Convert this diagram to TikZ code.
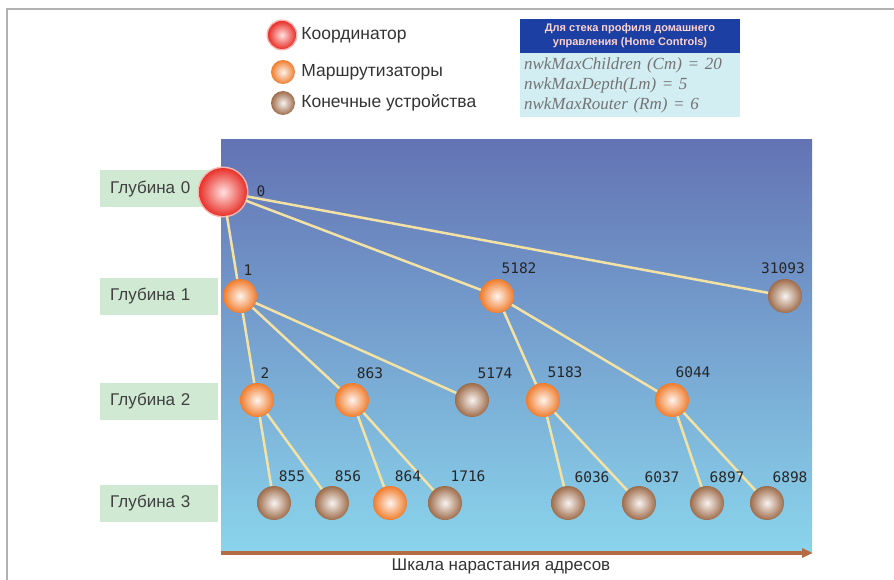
\documentclass[tikz,border=0pt]{standalone}
\usepackage{fontspec}
\setmainfont{Liberation Sans}
\newfontfamily\numfont{DejaVu Sans Mono}
\newfontfamily\parfont{Liberation Serif}
\usetikzlibrary{arrows.meta,positioning}
\definecolor{crRed}{HTML}{E8322A}
\definecolor{rtOrange}{HTML}{F07C2C}
\definecolor{edBrown}{HTML}{9E6C4A}
\definecolor{panTop}{HTML}{6373B4}
\definecolor{panMid}{HTML}{6AA8DA}
\definecolor{panBot}{HTML}{8AD4EC}
\definecolor{depthGreen}{HTML}{CFE9D3}
\definecolor{edgeCream}{HTML}{F4E2A4}
\definecolor{hdrBlue}{HTML}{1B3FA2}
\definecolor{infoCyan}{HTML}{D3EEF3}
\definecolor{axBrown}{HTML}{B56C42}
\tikzset{
  coordball/.style={circle, inner sep=0pt, minimum size=#1, inner color=red!12!white, outer color=crRed,
    preaction={draw=crRed!35, line width=3pt}},
  coordball/.default=48pt,
  routball/.style={circle, inner sep=0pt, minimum size=#1, inner color=rtOrange!8!white, outer color=rtOrange},
  routball/.default=34pt,
  endball/.style={circle, inner sep=0pt, minimum size=#1, inner color=edBrown!8!white, outer color=edBrown},
  endball/.default=34pt,
  depthbox/.style={fill=depthGreen, text width=98pt, align=left, inner xsep=10pt, minimum height=37pt,
    anchor=west, font=\fontsize{17}{20}\selectfont, text=black!75},
  numlbl/.style={font=\numfont\fontsize{14.5}{15}\selectfont, text=black!85, inner sep=1pt},
  legtxt/.style={font=\fontsize{17.5}{20}\selectfont, text=black!80, inner sep=0pt},
  tree/.style={draw=edgeCream, line width=2.5pt},
  axarr/.style={-{Triangle[length=11pt, width=9pt]}, draw=axBrown, line width=3.2pt}
}

\begin{document}
\begin{tikzpicture}[x=1pt, y=-1pt]
\useasboundingbox (0,0) rectangle (894,580);
% frame
\coordinate (fa) at (7,580); \coordinate (fb) at (7,9); \coordinate (fc) at (894,9);
\draw[gray!60, line width=2pt] (fa) -- (fb) -- (fc);

% legend
\node[coordball=28pt] (lgc) at (282,35) {};
\node[legtxt, right=5pt of lgc] (lgct) {Координатор};
\node[routball=24pt] (lgr) at (283,72) {};
\node[legtxt, right=6pt of lgr] (lgrt) {Маршрутизаторы};
\node[endball=24pt] (lge) at (283,103) {};
\node[legtxt, right=6pt of lge] (lget) {Конечные устройства};

% stack profile box
\node[fill=hdrBlue, minimum width=220pt, minimum height=34pt, align=center, text=pink!70!white,
  font=\bfseries\fontsize{11}{14}\selectfont] (hdr) at (630,36)
  {Для стека профиля домашнего\\управления (Home Controls)};
\node[fill=infoCyan, below=0pt of hdr, minimum width=220pt, minimum height=64pt, text width=212pt,
  align=left, inner sep=4pt, text=black!55, font=\parfont\itshape\fontsize{17}{20}\selectfont] (info)
  {nwkMaxChildren (Cm) = 20\\nwkMaxDepth(Lm) = 5\\nwkMaxRouter (Rm) = 6};

% depth labels
\node[depthbox] (d0) at (100,189) {Глубина 0};
\node[depthbox] (d1) at (100,296) {Глубина 1};
\node[depthbox] (d2) at (100,401) {Глубина 2};
\node[depthbox] (d3) at (100,503) {Глубина 3};

% panel
\shade[top color=panTop, middle color=panMid, bottom color=panBot] (221,140) rectangle (812,551);

% address axis
\coordinate (axS) at (221,553); \coordinate (axE) at (813,553);
\draw[axarr] (axS) -- (axE);
\node[font=\fontsize{17}{20}\selectfont, text=black!80] (axl) at (501,566) {Шкала нарастания адресов};

% tree nodes
\node[coordball] (c0) at (223,192) {};
\node[routball] (r1) at (240,296) {};
\node[routball] (r5182) at (497,296) {};
\node[endball] (e31093) at (785,296) {};
\node[routball] (r2) at (257,400) {};
\node[routball] (r863) at (352,400) {};
\node[endball] (e5174) at (472,400) {};
\node[routball] (r5183) at (543,400) {};
\node[routball] (r6044) at (672,400) {};
\node[endball] (e855) at (274,503) {};
\node[endball] (e856) at (332,503) {};
\node[routball] (r864) at (390,503) {};
\node[endball] (e1716) at (445,503) {};
\node[endball] (e6036) at (568,503) {};
\node[endball] (e6037) at (639,503) {};
\node[endball] (e6897) at (707,503) {};
\node[endball] (e6898) at (767,503) {};

% links
\draw[tree] (c0) -- (r1); \draw[tree] (c0) -- (r5182); \draw[tree] (c0) -- (e31093);
\draw[tree] (r1) -- (r2); \draw[tree] (r1) -- (r863); \draw[tree] (r1) -- (e5174);
\draw[tree] (r5182) -- (r5183); \draw[tree] (r5182) -- (r6044);
\draw[tree] (r2) -- (e855); \draw[tree] (r2) -- (e856);
\draw[tree] (r863) -- (r864); \draw[tree] (r863) -- (e1716);
\draw[tree] (r5183) -- (e6036); \draw[tree] (r5183) -- (e6037);
\draw[tree] (r6044) -- (e6897); \draw[tree] (r6044) -- (e6898);

% addresses
\node[numlbl] (l0) at (261,191) {0};
\node[numlbl] (l1) at (248,270) {1};
\node[numlbl] (l5182) at (519,268) {5182};
\node[numlbl] (l31093) at (783,268) {31093};
\node[numlbl] (l2) at (265,373) {2};
\node[numlbl] (l863) at (370,373) {863};
\node[numlbl] (l5174) at (495,373) {5174};
\node[numlbl] (l5183) at (565,372) {5183};
\node[numlbl] (l6044) at (693,372) {6044};
\node[numlbl] (l855) at (292,476) {855};
\node[numlbl] (l856) at (348,476) {856};
\node[numlbl] (l864) at (408,476) {864};
\node[numlbl] (l1716) at (468,476) {1716};
\node[numlbl] (l6036) at (592,477) {6036};
\node[numlbl] (l6037) at (662,477) {6037};
\node[numlbl] (l6897) at (727,477) {6897};
\node[numlbl] (l6898) at (790,477) {6898};
\end{tikzpicture}
\end{document}
